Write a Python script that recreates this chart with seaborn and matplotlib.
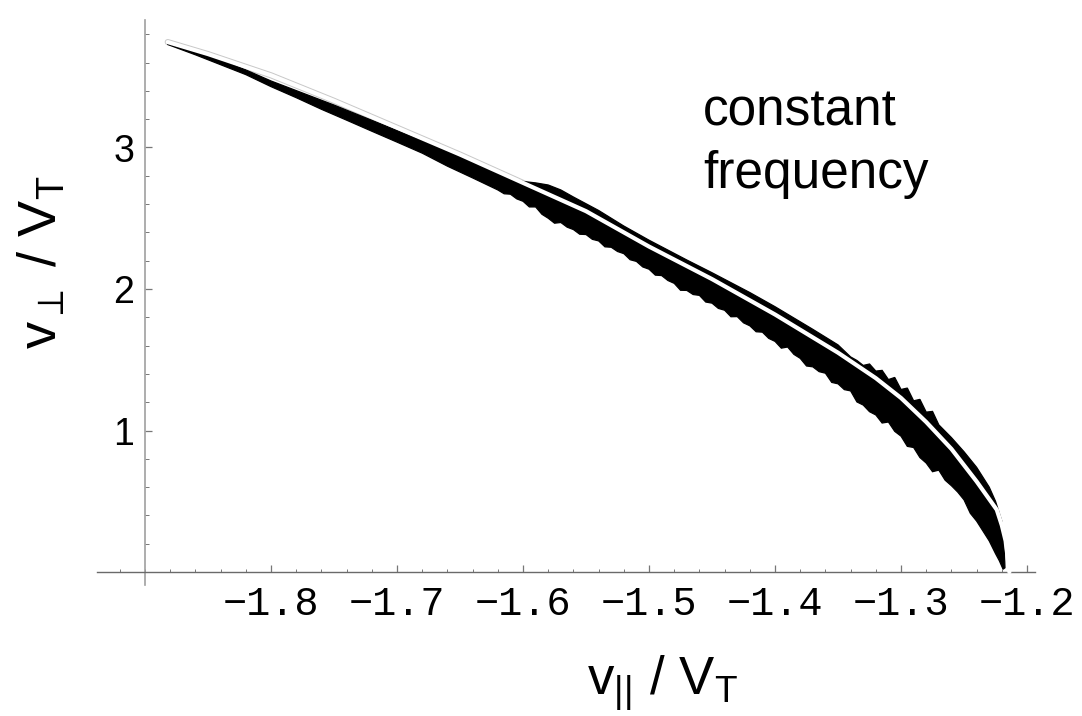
import numpy as np
import matplotlib
matplotlib.use("Agg")
import matplotlib.pyplot as plt
import seaborn as sns

# Constant-frequency resonance curve (white line)
curve_vpar = [-1.882, -1.85, -1.80, -1.75, -1.70, -1.65, -1.60, -1.55, -1.50,
              -1.45, -1.40, -1.35, -1.32, -1.30, -1.28, -1.26, -1.24, -1.224,
              -1.22, -1.217, -1.214]
curve_vperp = [3.745, 3.66, 3.51, 3.33, 3.14, 2.95, 2.75, 2.55, 2.30,
               2.07, 1.82, 1.55, 1.37, 1.23, 1.06, 0.87, 0.64, 0.44,
               0.33, 0.22, 0.0]

# Envelope of the simulated particle traces (black band): upper edge
band_hi_vpar = [-1.882, -1.86, -1.84, -1.82, -1.80, -1.75, -1.70, -1.65, -1.62,
                -1.60, -1.59, -1.58, -1.57, -1.56, -1.54, -1.52, -1.50, -1.47,
                -1.45, -1.42, -1.40, -1.37, -1.35, -1.34, -1.335, -1.33, -1.325,
                -1.32, -1.315, -1.31, -1.305, -1.30, -1.295, -1.29, -1.285,
                -1.28, -1.275, -1.27, -1.26, -1.25, -1.24, -1.23, -1.225, -1.22,
                -1.218, -1.2175]
band_hi_vperp = [3.745, 3.685, 3.620, 3.548, 3.470, 3.300, 3.120, 2.940, 2.815,
                 2.760, 2.750, 2.735, 2.700, 2.650, 2.555, 2.445, 2.345, 2.205,
                 2.115, 1.975, 1.875, 1.715, 1.605, 1.520, 1.495, 1.460, 1.470,
                 1.420, 1.425, 1.360, 1.375, 1.290, 1.300, 1.210, 1.220,
                 1.130, 1.135, 1.040, 0.950, 0.850, 0.740, 0.600, 0.500, 0.360,
                 0.150, 0.030]

# lower edge (ragged where the traces spread out)
band_lo_vpar = [-1.882, -1.86, -1.84, -1.82, -1.80, -1.78, -1.76, -1.74, -1.72,
                -1.70, -1.68, -1.66, -1.64, -1.62, -1.615, -1.61, -1.605, -1.60,
                -1.595, -1.59, -1.585, -1.58, -1.575, -1.57, -1.565, -1.56,
                -1.555, -1.55, -1.545, -1.54, -1.535, -1.53, -1.525, -1.52,
                -1.515, -1.51, -1.505, -1.50, -1.495, -1.49, -1.485, -1.48,
                -1.475, -1.47, -1.465, -1.46, -1.455, -1.45, -1.445, -1.44,
                -1.435, -1.43, -1.425, -1.42, -1.415, -1.41, -1.405, -1.40,
                -1.395, -1.39, -1.385, -1.38, -1.375, -1.37, -1.365, -1.36,
                -1.355, -1.35, -1.345, -1.34, -1.335, -1.33, -1.325, -1.32,
                -1.315, -1.31, -1.305, -1.30, -1.295, -1.29, -1.285, -1.28,
                -1.275, -1.27, -1.265, -1.26, -1.255, -1.25, -1.245, -1.24,
                -1.235, -1.23, -1.225, -1.222, -1.220, -1.219]
band_lo_vperp = [3.728, 3.655, 3.585, 3.515, 3.430, 3.352, 3.270, 3.193, 3.115,
                 3.038, 2.960, 2.868, 2.785, 2.700, 2.673, 2.670, 2.637, 2.620,
                 2.580, 2.580, 2.528, 2.500, 2.465, 2.470, 2.437, 2.420,
                 2.387, 2.385, 2.351, 2.340, 2.298, 2.295, 2.265, 2.250,
                 2.207, 2.195, 2.156, 2.140, 2.098, 2.095, 2.060, 2.040,
                 1.991, 1.990, 1.961, 1.955, 1.908, 1.900, 1.863, 1.850,
                 1.804, 1.805, 1.761, 1.740, 1.698, 1.695, 1.651, 1.630,
                 1.582, 1.590, 1.538, 1.510, 1.456, 1.450, 1.416, 1.405,
                 1.340, 1.330, 1.289, 1.280, 1.202, 1.180, 1.133, 1.110,
                 1.053, 1.060, 0.994, 0.960, 0.888, 0.880, 0.809, 0.770,
                 0.709, 0.720, 0.649, 0.610, 0.565, 0.510, 0.415, 0.360,
                 0.290, 0.220, 0.130, 0.080, 0.040, 0.020]

x_major = [-1.8, -1.7, -1.6, -1.5, -1.4, -1.3, -1.2]
x_tick_labels = ["\u22121.8", "\u22121.7", "\u22121.6", "\u22121.5",
                 "\u22121.4", "\u22121.3", "\u22121.2"]
y_major = [1, 2, 3]
y_tick_labels = ["1", "2", "3"]

sns.set_theme(style="white")
plt.rcParams["font.family"] = ["Liberation Sans", "DejaVu Sans"]
plt.rcParams["mathtext.fontset"] = "custom"
plt.rcParams["mathtext.rm"] = "Liberation Sans"
plt.rcParams["mathtext.sf"] = "Liberation Sans"
plt.rcParams["mathtext.it"] = "Liberation Sans"

W, H = 1082, 716
fig = plt.figure(figsize=(W / 100, H / 100), dpi=100)
fig.patch.set_facecolor("white")
ax = fig.add_axes([90 / W, 1 - 590 / H, 950 / W, 570 / H])
ax.set_facecolor("white")
ax.set_xlim(-1.9437, -1.1897)
ax.set_ylim(-0.127, 3.901)

# axes crossing at (-1.9, 0)
for side in ("top", "right"):
    ax.spines[side].set_visible(False)
ax.spines["left"].set_position(("data", -1.9))
ax.spines["left"].set_bounds(-0.09, 3.9)
ax.spines["left"].set_color("#a0a0a0")
ax.spines["left"].set_linewidth(1.2)
ax.spines["bottom"].set_position(("data", 0))
ax.spines["bottom"].set_bounds(-1.938, -1.194)
ax.spines["bottom"].set_color("#6a6a6a")
ax.spines["bottom"].set_linewidth(1.0)

# faint rim of the resonance curve where it runs above the traces
sns.lineplot(x=curve_vpar[:12], y=curve_vperp[:12], color="#c8c8c8", lw=4.4,
             estimator=None, sort=False, ax=ax, zorder=2.6)

# band of traces
poly_x = list(band_hi_vpar) + list(band_lo_vpar[::-1])
poly_y = list(band_hi_vperp) + list(band_lo_vperp[::-1])
ax.fill(poly_x, poly_y, color="black", lw=0.9, zorder=3)

# resonance curve
sns.lineplot(x=curve_vpar, y=curve_vperp, color="white", lw=3.0,
             estimator=None, sort=False, ax=ax, zorder=4)

# ticks
ax.set_xticks(x_major, labels=x_tick_labels, fontfamily="Liberation Mono",
              fontsize=29)
ax.set_xticks(np.round(np.arange(-1.92, -1.19, 0.02), 2), minor=True)
ax.set_yticks(y_major, labels=y_tick_labels, fontfamily="Liberation Sans",
              fontsize=27)
ax.set_yticks(np.round(np.arange(0.2, 3.81, 0.2), 1), minor=True)
ax.tick_params(axis="both", which="both", direction="in", bottom=True,
               left=True, top=False, right=False, colors="#777777")
ax.tick_params(axis="x", which="major", length=5, width=0.9, pad=9,
               labelcolor="black")
ax.tick_params(axis="x", which="minor", length=2.5, width=0.7)
ax.tick_params(axis="y", which="major", length=5, width=0.9, pad=8,
               labelcolor="black")
ax.tick_params(axis="y", which="minor", length=3, width=0.7)
ax.grid(False)

# axis labels
fig.text(42 / W, 1 - 262 / H, r"$\mathsf{v}_{\mathsf{\perp}}\ /\ \mathsf{V}_{\mathsf{T}}$",
         rotation=90, ha="center", va="center", fontsize=39, color="black")
fig.text(662 / W, 1 - 683 / H, r"$\mathsf{v}_{\mathsf{||}}\ /\ \mathsf{V}_{\mathsf{T}}$",
         ha="center", va="center", fontsize=38, color="black")

# annotation
fig.text(703 / W, 1 - 125 / H, "constant", ha="left", va="baseline",
         fontsize=37, color="black")
fig.text(703 / W, 1 - 188 / H, "frequency", ha="left", va="baseline",
         fontsize=37, color="black")

fig.savefig("out.png", dpi=100, facecolor="white")
